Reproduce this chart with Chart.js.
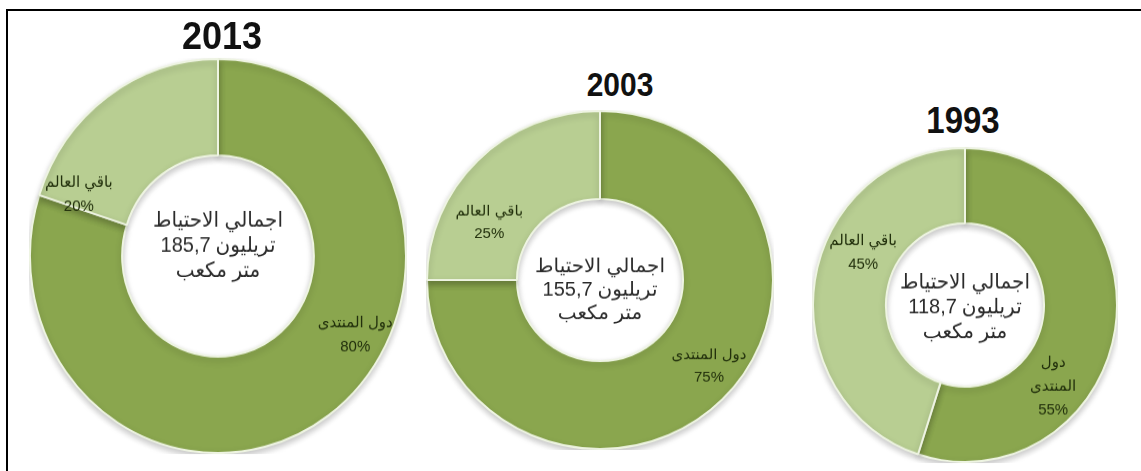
<!DOCTYPE html>
<html lang="ar">
<head>
<meta charset="UTF-8">
<title>احتياطي الغاز</title>
<script src="https://cdn.jsdelivr.net/npm/chart.js@4.4.0/dist/chart.umd.min.js"></script>
<style>
    body {
        margin: 0;
        width: 1141px;
        height: 471px;
        background: #ffffff;
        overflow: hidden;
        position: relative;
        font-family: "Liberation Sans", "DejaVu Sans", sans-serif;
    }
    .frame {
        position: absolute;
        left: 6px;
        top: 9px;
        right: -4px;
        bottom: -4px;
        border-top: 2px solid #000;
        border-left: 2px solid #000;
    }
    .ring {
        position: absolute;
        transform-origin: 50% 50%;
    }
    .year {
        position: absolute;
        width: 200px;
        text-align: center;
        font-weight: bold;
        color: #111;
        line-height: 1;
        transform-origin: 50% 50%;
    }
</style>
</head>
<body>
<div class="frame"></div>

<script>
    // shares of proven gas reserves, forum members vs rest of world
    const years = ['2013', '2003', '1993'];
    const forumShare = [80, 75, 55];
    const restShare = [20, 25, 45];
    const reserveTotals = ['185,7', '155,7', '118,7'];
    const sliceNames = ['دول المنتدى', 'باقي العالم'];

    const darkGreen = '#8aa64e';
    const lightGreen = '#b8ce92';

    // where each ring sits on the page and how its text is placed
    const layout = [
        { cx: 218, cy: 256, rx: 188, ry: 197, titleSize: 36, titleX: 222, titleY: 36, centerDy: -10,
          cutout: '51%', forumAt: [0.73, 0.40], restAt: [-0.74, -0.31], splitForum: false },
        { cx: 600, cy: 280, rx: 173, ry: 169, titleSize: 30, titleX: 620, titleY: 85, centerDy: 10,
          cutout: '48%', forumAt: [0.63, 0.51], restAt: [-0.64, -0.34], splitForum: false },
        { cx: 965, cy: 305, rx: 152, ry: 157, titleSize: 33, titleX: 963, titleY: 120, centerDy: 2,
          cutout: '52%', forumAt: [0.58, 0.52], restAt: [-0.67, -0.33], splitForum: true }
    ];

    const labelFont = '"Liberation Sans", "DejaVu Sans", sans-serif';

    const ringText = {
        id: 'ringText',
        afterDraw(chart) {
            const i = chart.options.plugins.ringText.index;
            const cfg = layout[i];
            const arc = chart.getDatasetMeta(0).data[0];
            const r = arc.outerRadius;
            const ctx = chart.ctx;
            ctx.save();
            ctx.textAlign = 'center';
            ctx.textBaseline = 'middle';

            // total in the hole: number on the left, unit word on the right
            ctx.fillStyle = '#2b2b2b';
            ctx.font = '20px ' + labelFont;
            const cy = arc.y + cfg.centerDy;
            ctx.fillText('اجمالي الاحتياط', arc.x, cy - 24);
            ctx.fillText('متر مكعب', arc.x, cy + 24);
            const num = reserveTotals[i];
            const word = 'تريليون';
            const gap = 5;
            const wNum = ctx.measureText(num).width;
            const wWord = ctx.measureText(word).width;
            let x0 = arc.x - (wNum + gap + wWord) / 2;
            ctx.textAlign = 'left';
            ctx.fillText(num, x0, cy);
            ctx.fillText(word, x0 + wNum + gap, cy);
            ctx.textAlign = 'center';

            // slice labels
            ctx.fillStyle = '#22300c';
            ctx.font = '15px ' + labelFont;
            const forumLines = cfg.splitForum
                ? ['دول', 'المنتدى', forumShare[i] + '%']
                : [sliceNames[0], forumShare[i] + '%'];
            const restLines = [sliceNames[1], restShare[i] + '%'];
            const drawBlock = (lines, at) => {
                const bx = arc.x + at[0] * r;
                const by = arc.y + at[1] * r;
                lines.forEach((t, k) => {
                    ctx.fillText(t, bx, by + (k - (lines.length - 1) / 2) * 23);
                });
            };
            drawBlock(forumLines, cfg.forumAt);
            drawBlock(restLines, cfg.restAt);
            ctx.restore();
        }
    };

    const softShadow = {
        id: 'softShadow',
        beforeDatasetsDraw(chart) {
            const ctx = chart.ctx;
            ctx.save();
            ctx.shadowColor = 'rgba(0,0,0,0.22)';
            ctx.shadowBlur = 6;
            ctx.shadowOffsetY = 3;
        },
        afterDatasetsDraw(chart) {
            chart.ctx.restore();
        }
    };

    years.forEach((year, i) => {
        const cfg = layout[i];
        const size = cfg.rx * 2 + 2;

        const canvas = document.createElement('canvas');
        canvas.width = size;
        canvas.height = size;
        canvas.className = 'ring';
        canvas.style.left = (cfg.cx - size / 2) + 'px';
        canvas.style.top = (cfg.cy - size / 2) + 'px';
        canvas.style.width = size + 'px';
        canvas.style.height = size + 'px';
        canvas.style.transform = 'scaleY(' + (cfg.ry / cfg.rx).toFixed(3) + ')';
        document.body.appendChild(canvas);

        const title = document.createElement('div');
        title.className = 'year';
        title.textContent = year;
        title.style.fontSize = cfg.titleSize + 'px';
        title.style.left = (cfg.titleX - 100) + 'px';
        title.style.top = (cfg.titleY - cfg.titleSize * 0.49) + 'px';
        title.style.transform = 'scaleY(1.1)';
        document.body.appendChild(title);

        new Chart(canvas, {
            type: 'doughnut',
            data: {
                labels: sliceNames,
                datasets: [{
                    data: [forumShare[i], restShare[i]],
                    backgroundColor: [darkGreen, lightGreen],
                    borderColor: '#eef4e2',
                    borderWidth: 2
                }]
            },
            options: {
                responsive: false,
                animation: false,
                cutout: cfg.cutout,
                layout: { padding: 0 },
                plugins: {
                    legend: { display: false },
                    tooltip: { enabled: false },
                    ringText: { index: i }
                }
            },
            plugins: [softShadow, ringText]
        });
    });
</script>
</body>
</html>
